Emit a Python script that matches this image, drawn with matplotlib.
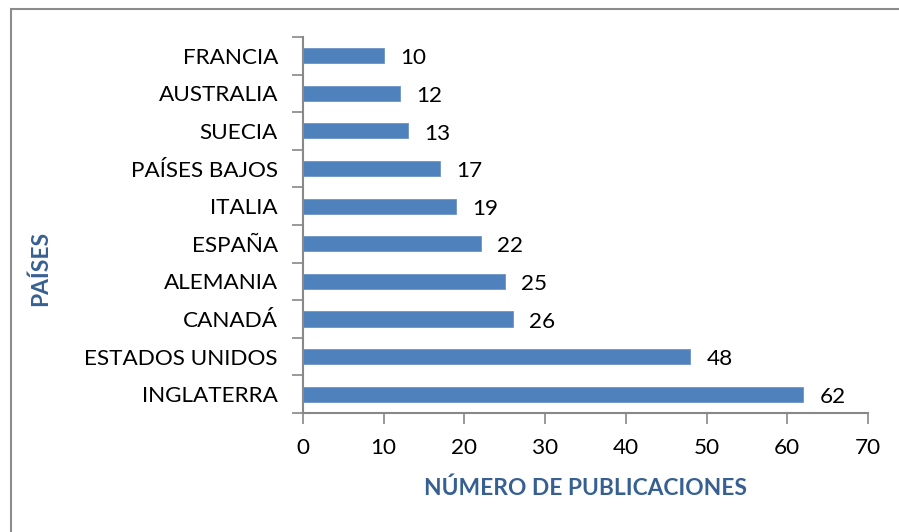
import matplotlib
matplotlib.use('Agg')
import matplotlib.pyplot as plt
from matplotlib.patches import Rectangle

# data (top to bottom in the picture)
paises = ['FRANCIA', 'AUSTRALIA', 'SUECIA', 'PAÍSES BAJOS', 'ITALIA',
          'ESPAÑA', 'ALEMANIA', 'CANADÁ', 'ESTADOS UNIDOS', 'INGLATERRA']
publicaciones = [10, 12, 13, 17, 19, 22, 25, 26, 48, 62]
xticks = [0, 10, 20, 30, 40, 50, 60, 70]

bar_color = '#4F81BD'
title_color = '#376092'
axis_gray = '#888888'

plt.rcParams['font.family'] = ['Lato', 'DejaVu Sans']


def main():
    fig = plt.figure(figsize=(8.99, 5.32), dpi=100)
    ax = fig.add_axes([0.337, 0.2237, 0.6285, 0.7068])

    # outer frame of the chart area
    fig.patches.append(Rectangle((11 / 899, -0.05), 1.1, 1 - 9 / 532 + 0.05,
                                 transform=fig.transFigure, fill=False,
                                 edgecolor='#8c8c8c', linewidth=1.5))

    n = len(paises)
    pos = list(range(n))
    ax.barh(pos, publicaciones, height=0.4, color=bar_color,
            edgecolor='#6d95c8', linewidth=0.6)
    ax.set_ylim(n - 0.5, -0.5)
    ax.set_xlim(0, 70)

    for p, v in zip(pos, publicaciones):
        ax.text(v + 2.0, p + 0.07, str(v), va='center', ha='left',
                fontsize=16.2, color='black')

    ax.set_yticks(pos)
    ax.set_yticklabels(paises, fontsize=16.2)
    ax.set_yticks([i - 0.5 for i in range(n + 1)], minor=True)
    ax.tick_params(axis='y', which='major', length=0, pad=18)
    ax.tick_params(axis='y', which='minor', length=8, width=1.2,
                   color=axis_gray)
    ax.set_xticks(xticks)
    ax.set_xticklabels([str(t) for t in xticks], fontsize=16.2)
    ax.tick_params(axis='x', length=8, width=1.2, color=axis_gray, pad=10)

    for s in ['top', 'right']:
        ax.spines[s].set_visible(False)
    for s in ['left', 'bottom']:
        ax.spines[s].set_color(axis_gray)
        ax.spines[s].set_linewidth(1.5)

    fig.text(585 / 899, 1 - 488 / 532, 'NÚMERO DE PUBLICACIONES',
             ha='center', va='center', fontsize=16.4, fontweight='bold',
             color=title_color)
    fig.text(40 / 899, 1 - 268 / 532, 'PAÍSES', ha='center', va='center',
             rotation=90, fontsize=16.4, fontweight='bold', color=title_color)

    fig.savefig('out.png', dpi=100)


if __name__ == '__main__':
    main()
